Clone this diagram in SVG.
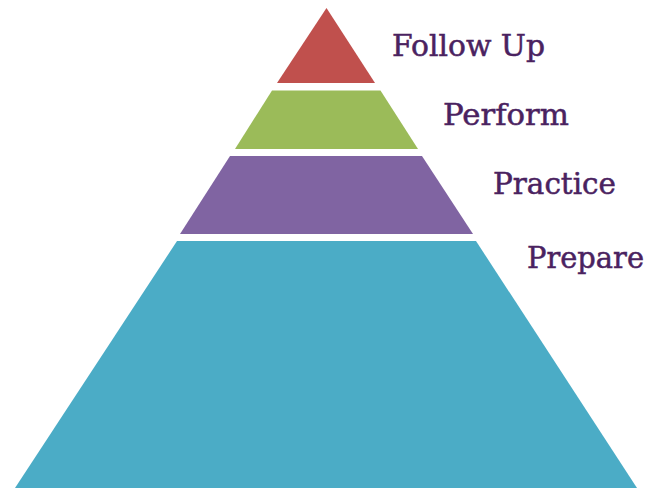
<svg xmlns="http://www.w3.org/2000/svg" width="659" height="488" viewBox="0 0 659 488">
  <style>
    .lbl { font-family: "DejaVu Serif", "Liberation Serif", serif; font-size: 29px; fill: #4a2260; stroke: #4a2260; stroke-width: 0.5px; }
  </style>
  <rect width="659" height="488" fill="#ffffff"/>
  <g id="follow-up">
    <polygon points="326.5,8 375,83 277,83" fill="#c0504d"/>
    <text class="lbl" x="392" y="56" textLength="153" lengthAdjust="spacingAndGlyphs">Follow Up</text>
  </g>
  <g id="perform">
    <polygon points="272,90.5 380.5,90.5 418,149 235,149" fill="#9bbb59"/>
    <text class="lbl" x="443" y="125" textLength="126" lengthAdjust="spacingAndGlyphs">Perform</text>
  </g>
  <g id="practice">
    <polygon points="230,156 422,156 473,234 180,234" fill="#8064a2"/>
    <text class="lbl" x="493" y="194" textLength="123" lengthAdjust="spacingAndGlyphs">Practice</text>
  </g>
  <g id="prepare">
    <polygon points="177,241 476,241 637,488 15,488" fill="#4bacc6"/>
    <text class="lbl" x="527" y="268" textLength="117" lengthAdjust="spacingAndGlyphs">Prepare</text>
  </g>
  <g id="connectors"/>
</svg>
